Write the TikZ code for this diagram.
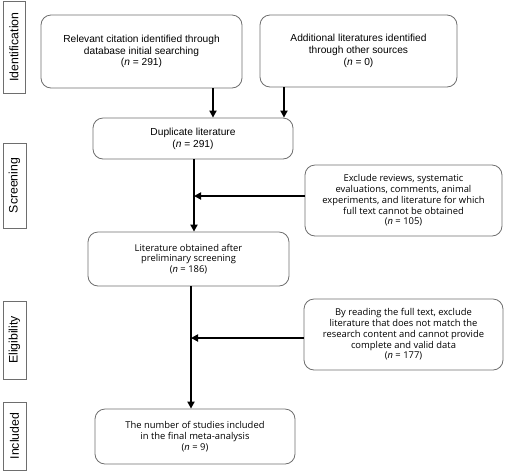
\documentclass[tikz,border=0pt]{standalone}
\usepackage{fontspec}
\setmainfont{Liberation Sans}
\newfontfamily\osans{Open Sans}
\usetikzlibrary{arrows.meta}
\definecolor{boxgray}{HTML}{6E6E6E}
\tikzset{
  stagebox/.style={draw=boxgray, line width=0.8pt, rotate=90, inner sep=0pt, font=\fontsize{12.3}{14}\selectfont},
  topbox/.style={draw=boxgray, line width=0.8pt, rounded corners=10pt, align=center, inner sep=0pt, font=\fontsize{10.2}{11.8}\selectfont},
  lowbox/.style={draw=boxgray, line width=0.8pt, rounded corners=10pt, align=center, inner sep=0pt, font=\osans\fontsize{9.4}{10.8}\selectfont},
  arr/.style={line width=2pt, -{Triangle[length=7pt,width=7pt]}},
  seg/.style={line width=2pt}
}
\begin{document}
\begin{tikzpicture}[x=1pt,y=-1pt]
\useasboundingbox (0,0) rectangle (506,475);
% stage labels
\node[stagebox, minimum width=92pt, minimum height=22pt] (l1) at (14,47) {Identification};
\node[stagebox, minimum width=85pt, minimum height=23pt] (l2) at (14.5,185.5) {Screening};
\node[stagebox, minimum width=78pt, minimum height=23pt] (l3) at (14.5,340) {Eligibility};
\node[stagebox, minimum width=68pt, minimum height=23pt] (l4) at (14.5,436) {Included};
% boxes
\node[topbox, minimum width=201pt, minimum height=73pt] (b1) at (141.5,51.5) {Relevant citation identified through\\database initial searching\\(\textit{n} = 291)};
\node[topbox, minimum width=197pt, minimum height=72pt] (b2) at (358.5,51) {Additional literatures identified\\through other sources\\(\textit{n} = 0)};
\node[topbox, minimum width=200pt, minimum height=41pt] (b3) at (193,138.5) {Duplicate literature\\(\textit{n} = 291)};
\node[lowbox, minimum width=197pt, minimum height=71pt] (e1) at (403.5,200.5) {Exclude reviews, systematic\\evaluations, comments, animal\\experiments, and literature for which\\full text cannot be obtained\\(\textit{n} = 105)};
\node[lowbox, minimum width=201pt, minimum height=54pt] (b4) at (188.5,259) {Literature obtained after\\preliminary screening\\(\textit{n} = 186)};
\node[lowbox, minimum width=199pt, minimum height=71pt] (e2) at (403.5,334.5) {By reading the full text, exclude\\literature that does not match the\\research content and cannot provide\\complete and valid data\\(\textit{n} = 177)};
\node[lowbox, minimum width=200pt, minimum height=55pt] (b5) at (195,436.5) {The number of studies included\\in the final meta-analysis\\(\textit{n} = 9)};
% connectors
\coordinate (c1) at (213,0);
\coordinate (c2) at (284,0);
\coordinate (c3) at (194,0);
\coordinate (c4) at (191,0);
\coordinate (j1) at (194,196);
\coordinate (j2) at (191,338);
\draw[arr] (b1.south -| c1) -- (b3.north -| c1);
\draw[arr] (b2.south -| c2) -- (b3.north -| c2);
\draw[arr] (b3.south -| c3) -- (b4.north -| c3);
\draw[arr] (b4.south -| c4) -- (b5.north -| c4);
\draw[arr] (j1 -| e1.west) -- (j1);
\draw[arr] (j2 -| e2.west) -- (j2);
\end{tikzpicture}
\end{document}
